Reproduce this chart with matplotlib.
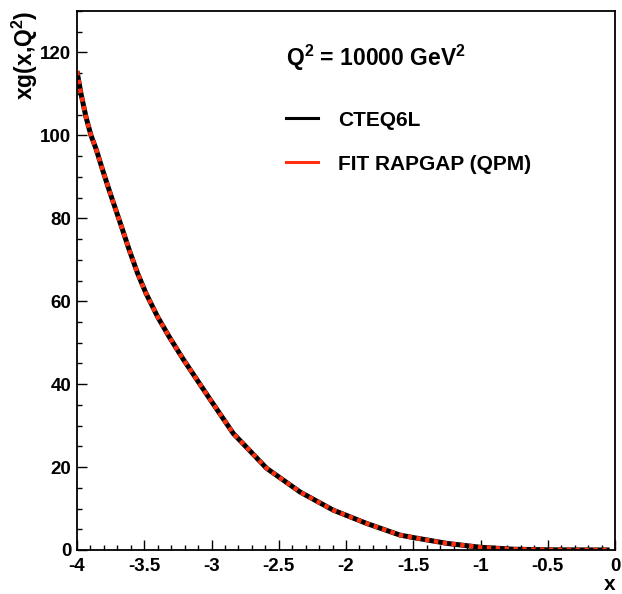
import matplotlib
matplotlib.use("Agg")
import matplotlib.pyplot as plt
from matplotlib.lines import Line2D
from matplotlib.ticker import MultipleLocator, FormatStrFormatter

# values
x_vals = [-4.0, -3.97, -3.933, -3.896, -3.859, -3.809, -3.76, -3.71, -3.66, -3.611,
          -3.549, -3.487, -3.40, -3.314, -3.214, -3.115, -3.016, -2.838, -2.59,
          -2.342, -2.094, -1.846, -1.599, -1.50, -1.25, -1.00, -0.76, -0.50, -0.25, -0.04]
xg_cteq = [115.5, 110.0, 104.4, 100.0, 96.8, 91.6, 86.7, 81.9, 77.1, 72.3,
           66.7, 61.9, 56.2, 51.4, 46.2, 41.4, 36.6, 28.1, 19.7,
           14.0, 9.6, 6.4, 3.6, 3.0, 1.6, 0.65, 0.2, 0.05, 0.02, 0.01]
xg_fit = list(xg_cteq)

labels = ["CTEQ6L", "FIT RAPGAP (QPM)"]
q2_text = "Q$^{2}$ = 10000 GeV$^{2}$"

red = "#ff3010"

plt.rcParams["font.family"] = ["Liberation Sans", "DejaVu Sans"]
plt.rcParams["font.weight"] = "bold"
plt.rcParams["axes.unicode_minus"] = False
plt.rcParams["mathtext.fontset"] = "custom"
plt.rcParams["mathtext.rm"] = "Liberation Sans:bold"
plt.rcParams["mathtext.bf"] = "Liberation Sans:bold"
plt.rcParams["mathtext.default"] = "rm"

fig = plt.figure(figsize=(6.22, 5.94), dpi=100)
ax = fig.add_axes([77 / 622, 44 / 594, 538 / 622, 539 / 594])

ax.plot(x_vals, xg_cteq, color="black", lw=3.6, solid_capstyle="butt",
        solid_joinstyle="round")
ax.plot(x_vals, xg_fit, color=red, lw=3.2, dashes=(1.0, 1.0), dash_capstyle="butt")

ax.set_xlim(-4, 0)
ax.set_ylim(0, 130)
ax.xaxis.set_major_locator(MultipleLocator(0.5))
ax.xaxis.set_minor_locator(MultipleLocator(0.1))
ax.yaxis.set_major_locator(MultipleLocator(20))
ax.yaxis.set_minor_locator(MultipleLocator(5))
ax.xaxis.set_major_formatter(FormatStrFormatter("%g"))
ax.yaxis.set_major_formatter(FormatStrFormatter("%g"))
ax.tick_params(which="both", direction="in", top=False, right=False, width=1)
ax.tick_params(which="major", length=7.2, labelsize=13.5, pad=4)
ax.tick_params(which="minor", length=3.6)
ax.tick_params(axis="x", which="major", pad=6)
for lbl in ax.get_xticklabels() + ax.get_yticklabels():
    lbl.set_fontweight("bold")
for sp in ax.spines.values():
    sp.set_linewidth(1.3)

ax.set_ylabel("xg(x,Q$^{2}$)", fontsize=16.5, fontweight="bold", loc="top", labelpad=0)
ax.set_xlabel("x", fontsize=15, fontweight="bold", loc="right", labelpad=0)

ax.text(0.3885, 0.913, q2_text, transform=ax.transAxes, fontsize=16.5,
        fontweight="bold", va="center", ha="left")

handles = [Line2D([], [], color="black", lw=2.2),
           Line2D([], [], color=red, lw=2.2)]
ax.legend(handles, labels, loc="upper left", bbox_to_anchor=(0.3885, 0.815),
          frameon=False, prop={"weight": "bold", "size": 15},
          borderpad=0, borderaxespad=0, handlelength=1.55, handletextpad=0.95,
          labelspacing=1.2)

fig.savefig("out.png", dpi=100)
